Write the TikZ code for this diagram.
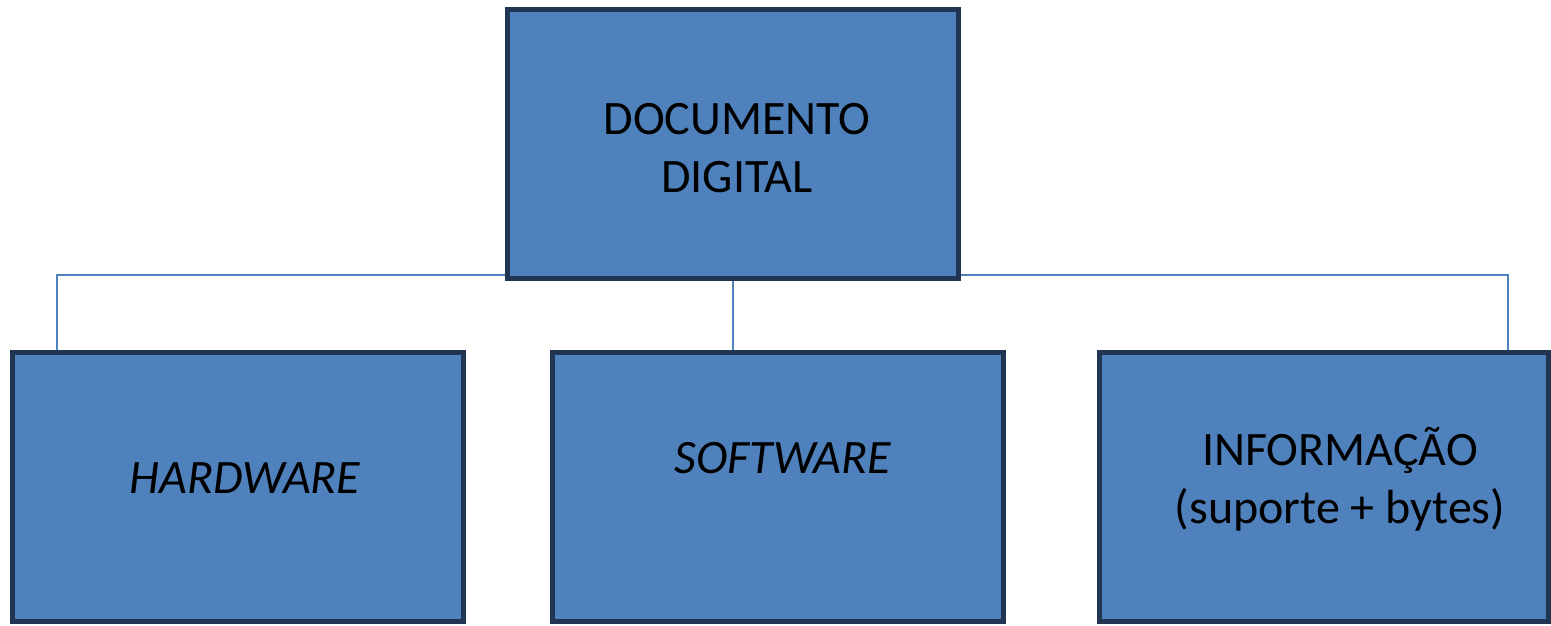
\documentclass[tikz,border=0pt]{standalone}
\usepackage{fontspec}
\setmainfont{Carlito}
\usetikzlibrary{backgrounds}
\definecolor{boxfill}{HTML}{4F81BD}
\definecolor{boxedge}{HTML}{1F3551}
\definecolor{linkc}{HTML}{4F81BD}
\tikzset{
  box/.style={draw=boxedge, fill=boxfill, line width=5pt, inner sep=0pt, outer sep=0pt, minimum width=451pt, minimum height=269pt},
  lbl/.style={text=black, font=\fontsize{48}{58}\selectfont, align=center, inner sep=0pt},
  link/.style={draw=linkc, line width=2.2pt}
}
\begin{document}
\begin{tikzpicture}[x=1pt,y=-1pt]
\useasboundingbox (0,0) rectangle (1551,625);
\node[box] (top) at (732.5,144) {};
\node[box] (hw) at (237.5,486.5) {};
\node[box] (sw) at (777.5,486.5) {};
\node[box, minimum width=449pt] (inf) at (1323.5,486.5) {};
\node[lbl] (ttop) at (737,148) {DOCUMENTO\\DIGITAL};
\node[lbl] (thw) at (245,478) {\itshape HARDWARE};
\node[lbl] (tsw) at (783,458) {\itshape SOFTWARE};
\node[lbl] (tinf) at (1340,479) {INFORMAÇÃO\\(suporte + bytes)};
\coordinate (jl) at (57,275);
\coordinate (jm) at (733,275);
\coordinate (jr) at (1508,275);
\begin{scope}[on background layer]
\fill[white] (0,0) rectangle (1551,625);
\draw[link] (hw.north -| jl) -- (jl) -- (jr) -- (inf.north -| jr);
\draw[link] (jm) -- (sw.north -| jm);
\end{scope}
\end{tikzpicture}
\end{document}
